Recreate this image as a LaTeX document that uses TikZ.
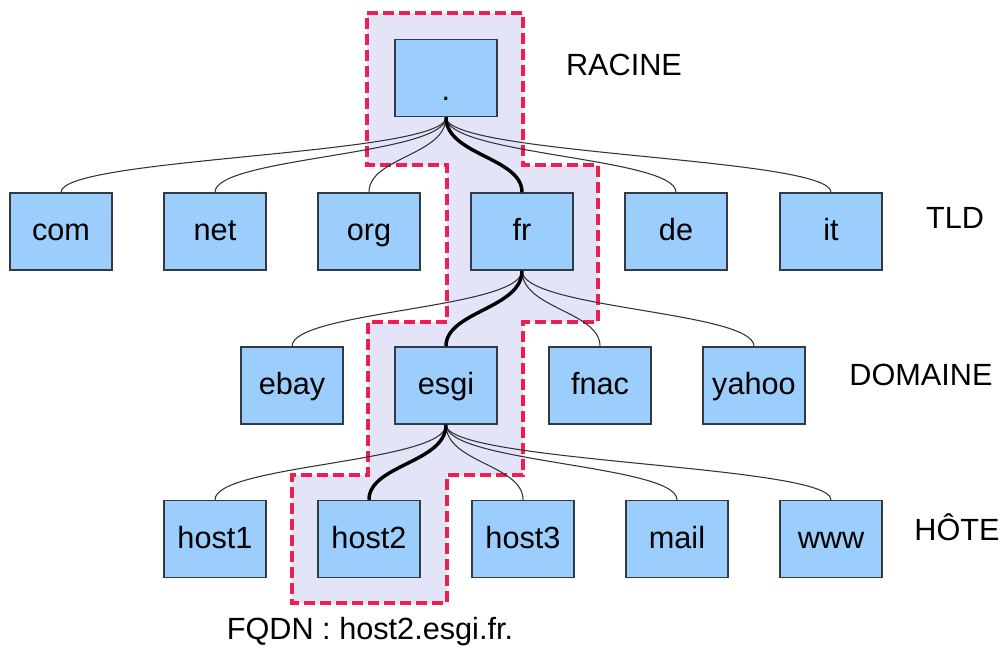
\documentclass[tikz,border=0pt]{standalone}
\usepackage{fontspec}
\setmainfont{Liberation Sans}
\definecolor{boxblue}{RGB}{155,206,252}
\definecolor{boxedge}{RGB}{50,58,68}
\definecolor{pathred}{RGB}{240,30,80}
\definecolor{lav}{RGB}{228,228,248}
\newcommand\lnk[3][thinlink]{\draw[#1] (#2.south) .. controls +(0,38) and +(0,-35) .. (#3.north);}
\begin{document}
\begin{tikzpicture}[x=0.75pt,y=-0.75pt,
  dbox/.style={draw=boxedge,fill=boxblue,line width=1.1pt,minimum width=76.5pt,minimum height=57.75pt,inner sep=0pt,text height=17pt,text depth=3pt,font=\fontsize{23}{27}\selectfont},
  lbl/.style={font=\fontsize{23}{27}\selectfont,inner sep=0pt},
  thinlink/.style={line width=0.8pt,draw=black!80},
  boldlink/.style={line width=2.6pt,draw=black},
  zone/.style={fill=lav,draw=pathred,line width=2.6pt,dash pattern=on 8pt off 4pt}]
\useasboundingbox (0,0) rectangle (1003,649);
% highlighted zone
\draw[zone] (367,13) -- (523,13) -- (523,165) -- (598,165) -- (598,322) -- (523,322)
  -- (523,475) -- (447,475) -- (447,603) -- (292,603) -- (292,475) -- (368,475)
  -- (368,322) -- (447,322) -- (447,165) -- (367,165) -- cycle;
% nodes
\node[dbox] (root) at (446,78) {};
\node[lbl,anchor=base] (rootdot) at (446,101) {.};
\node[dbox] (com) at (61,231.5) {com};
\node[dbox] (net) at (215,231.5) {net};
\node[dbox] (org) at (369,231.5) {org};
\node[dbox] (fr) at (522,231.5) {fr};
\node[dbox] (de) at (676,231.5) {de};
\node[dbox] (it) at (831,231.5) {it};
\node[dbox] (ebay) at (292,385.5) {ebay};
\node[dbox] (esgi) at (446,385.5) {esgi};
\node[dbox] (fnac) at (600,385.5) {fnac};
\node[dbox] (yahoo) at (754,385.5) {yahoo};
\node[dbox] (host1) at (215,539) {host1};
\node[dbox] (host2) at (369,539) {host2};
\node[dbox] (host3) at (523,539) {host3};
\node[dbox] (mail) at (677,539) {mail};
\node[dbox] (www) at (831,539) {www};
% level labels
\node[lbl] (racine) at (624,65) {RACINE};
\node[lbl] (tld) at (955,218) {TLD};
\node[lbl] (domaine) at (921,375) {DOMAINE};
\node[lbl] (hote) at (957,527) {HÔTE};
\node[lbl] (fqdn) at (370,632) {FQDN : host2.esgi.fr.};
% links
\lnk{root}{com}\lnk{root}{net}\lnk{root}{org}\lnk{root}{de}\lnk{root}{it}
\lnk{fr}{ebay}\lnk{fr}{fnac}\lnk{fr}{yahoo}
\lnk{esgi}{host1}\lnk{esgi}{host3}\lnk{esgi}{mail}\lnk{esgi}{www}
\lnk[boldlink]{root}{fr}\lnk[boldlink]{fr}{esgi}\lnk[boldlink]{esgi}{host2}
\end{tikzpicture}
\end{document}
